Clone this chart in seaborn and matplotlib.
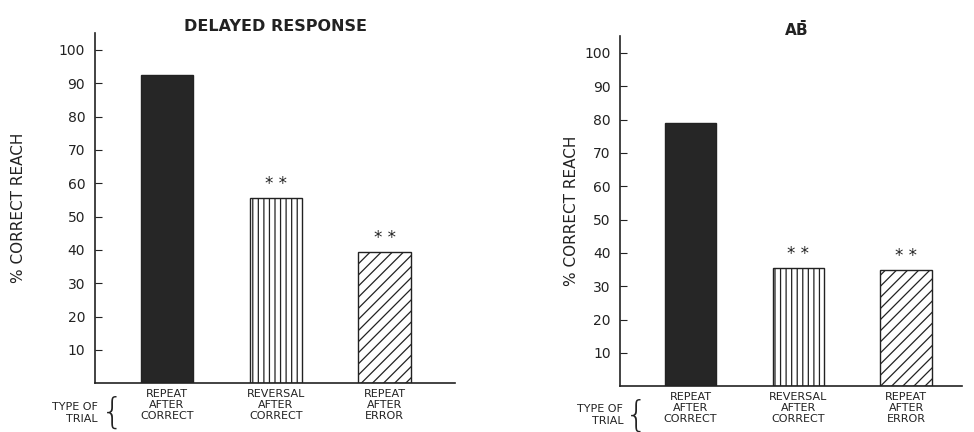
import matplotlib
matplotlib.use("Agg")
import matplotlib.pyplot as plt
import seaborn as sns

# --- data ---
TRIAL_TYPES = ["REPEAT\nAFTER\nCORRECT", "REVERSAL\nAFTER\nCORRECT", "REPEAT\nAFTER\nERROR"]
DELAYED_RESPONSE = [92.5, 55.5, 39.5]
AB_TASK = [79, 35.5, 35]
SIGNIF = ["", "* *", "* *"]
Y_TICKS = [10, 20, 30, 40, 50, 60, 70, 80, 90, 100]

FACES = ["#262626", "white", "white"]
HATCHES = [None, "|||", "///"]
INK = "#222222"

sns.set_style("white")
plt.rcParams["font.family"] = ["DejaVu Sans"]
plt.rcParams["hatch.linewidth"] = 0.9
plt.rcParams["hatch.color"] = INK

fig = plt.figure(figsize=(9.74, 4.32), dpi=100)
ax_l = fig.add_axes([0.0975, 0.113, 0.37, 0.81])
ax_r = fig.add_axes([0.637, 0.106, 0.351, 0.81])


def draw_panel(ax, values, title, title_x, title_size, xlim, label_x, trial_y):
    sns.barplot(x=TRIAL_TYPES, y=values, hue=TRIAL_TYPES, palette=FACES,
                legend=False, width=0.48, ax=ax, saturation=1)
    for bar, hatch in zip(ax.patches, HATCHES):
        bar.set_edgecolor(INK)
        bar.set_linewidth(1.0)
        if hatch:
            bar.set_hatch(hatch)
    for i, (v, s) in enumerate(zip(values, SIGNIF)):
        if s:
            ax.text(i, v + 1.5, s, ha="center", va="bottom", fontsize=12, color=INK)

    ax.set_ylim(0, 105)
    ax.set_xlim(*xlim)
    ax.set_yticks(Y_TICKS)
    ax.tick_params(axis="y", direction="in", length=5, width=0.8, pad=7,
                   labelsize=10, colors=INK, left=True)
    ax.tick_params(axis="x", length=0, pad=4, labelsize=8, colors=INK)
    for lbl in ax.get_xticklabels():
        lbl.set_linespacing(1.15)
    sns.despine(ax=ax)
    for sp in ("left", "bottom"):
        ax.spines[sp].set_color(INK)
        ax.spines[sp].set_linewidth(1.2)

    ax.set_ylabel("% CORRECT REACH", fontsize=11, color=INK)
    ax.yaxis.set_label_coords(label_x, 0.5)
    ax.text(title_x, 1.02, title, transform=ax.transAxes, ha="center",
            va="center", fontsize=title_size, fontweight="bold", color=INK)

    ax.text(0.008, trial_y, "TYPE OF\nTRIAL", transform=ax.transAxes, ha="right",
            va="center", fontsize=8, color=INK, linespacing=1.2)
    ax.text(0.048, trial_y, "{", transform=ax.transAxes, ha="center",
            va="center", fontsize=26, color=INK, fontweight="light")


draw_panel(ax_l, DELAYED_RESPONSE, "DELAYED RESPONSE", 0.5, 11.5,
           (-0.66, 2.65), -0.19, -0.085)
draw_panel(ax_r, AB_TASK, r"$\mathbf{A\bar{B}}$", 0.515, 11,
           (-0.65, 2.52), -0.12, -0.083)

fig.savefig("out.png", dpi=100)
